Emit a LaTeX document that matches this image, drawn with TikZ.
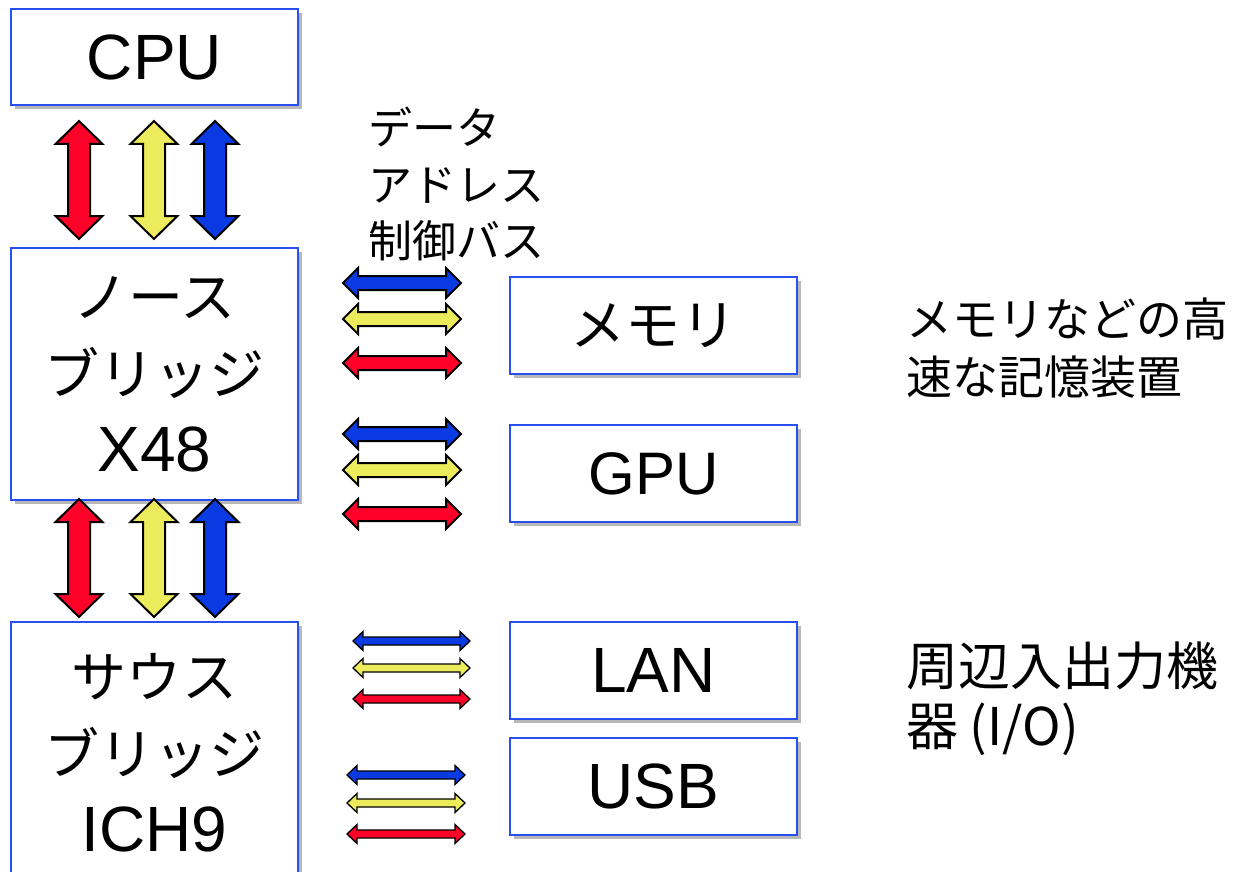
\documentclass[tikz,border=0pt]{standalone}
\usepackage{fontspec}
\setmainfont{Liberation Sans}
\newfontfamily\jp{Noto Sans CJK JP}
\newfontfamily\jpb{Noto Sans CJK JP}[Scale=0.86]
\usetikzlibrary{shadows}
\definecolor{busred}{RGB}{255,0,40}
\definecolor{busyellow}{RGB}{235,235,92}
\definecolor{busblue}{RGB}{10,58,225}
\definecolor{boxblue}{RGB}{40,80,240}
\tikzset{
  box/.style={draw=boxblue, line width=2pt, fill=white, minimum width=287pt,
    inner sep=0pt, align=center, font=\fontsize{64}{77}\selectfont,
    drop shadow={shadow xshift=4pt, shadow yshift=-4pt, opacity=0.28, fill=black}},
  busline/.style={draw=black, line width=2pt, line join=miter},
  smallbus/.style={draw=black, line width=1.3pt, line join=miter},
  lbl/.style={inner sep=0pt, anchor=west, align=left}
}
% vertical double block arrow: x, ytop, ybottom, colour
\newcommand\vbus[4]{\filldraw[busline,fill=#4] (#1,#2) -- ++(23.5,23) -- ++(-12.5,0) -- (#1+11,#3-23) -- ++(12.5,0) -- (#1,#3) -- ++(-23.5,-23) -- ++(12.5,0) -- (#1-11,#2+23) -- ++(-12.5,0) -- cycle;}
% horizontal double block arrow: x1, x2, y, shaft half, head half, head length, colour, style
\newcommand\hbus[8]{\filldraw[#8,fill=#7] (#1,#3) -- (#1+#6,#3-#5) -- (#1+#6,#3-#4) -- (#2-#6,#3-#4) -- (#2-#6,#3-#5) -- (#2,#3) -- (#2-#6,#3+#5) -- (#2-#6,#3+#4) -- (#1+#6,#3+#4) -- (#1+#6,#3+#5) -- cycle;}
\begin{document}
\begin{tikzpicture}[x=1pt,y=-1pt]
\useasboundingbox (0,0) rectangle (1237,872);
% boxes
\node[box, minimum height=96pt] (cpu) at (154.5,57) {CPU};
\node[box, minimum height=252pt] (nb) at (154.5,374) {{\jpb ノース}\\{\jpb ブリッジ}\\X48};
\node[box, minimum height=262pt] (sb) at (154.5,753) {{\jpb サウス}\\{\jpb ブリッジ}\\ICH9};
\node[box, minimum height=97pt] (mem) at (653.5,325.5) {\jpb メモリ};
\node[box, minimum height=97pt, font=\fontsize{60}{72}\selectfont] (gpu) at (653.5,473.5) {GPU};
\node[box, minimum height=97pt] (lan) at (653.5,670.5) {LAN};
\node[box, minimum height=97pt] (usb) at (653.5,786.5) {USB};
% labels
\node[lbl, font=\jp\fontsize{44}{56.5}\selectfont] (buslbl) at (368,184.5) {データ\\アドレス\\制御バス};
\node[lbl, font=\jp\fontsize{46}{58}\selectfont] (memlbl) at (906,348) {メモリなどの高\\速な記憶装置};
\node[lbl, font=\jp\fontsize{52}{60}\selectfont] (iolbl) at (906,699) {周辺入出力機\\器 (I/O)};
% vertical buses CPU - north bridge
\vbus{79}{121}{239}{busred}
\vbus{154}{121}{239}{busyellow}
\vbus{215}{121}{239}{busblue}
% vertical buses north bridge - south bridge
\vbus{79}{499}{617}{busred}
\vbus{154}{499}{617}{busyellow}
\vbus{215}{499}{617}{busblue}
% memory buses
\hbus{343}{461}{283}{7}{15}{15}{busblue}{busline}
\hbus{343}{461}{319}{7}{15}{15}{busyellow}{busline}
\hbus{343}{461}{363}{7}{15}{15}{busred}{busline}
% GPU buses
\hbus{343}{461}{434}{7}{15}{15}{busblue}{busline}
\hbus{343}{461}{470}{7}{15}{15}{busyellow}{busline}
\hbus{343}{461}{514}{7}{15}{15}{busred}{busline}
% LAN buses
\hbus{353}{470}{641}{4}{9.5}{10}{busblue}{smallbus}
\hbus{353}{470}{668}{4}{9.5}{10}{busyellow}{smallbus}
\hbus{353}{470}{699}{4}{9.5}{10}{busred}{smallbus}
% USB buses
\hbus{347}{465}{775}{4}{9.5}{10}{busblue}{smallbus}
\hbus{347}{465}{803}{4}{9.5}{10}{busyellow}{smallbus}
\hbus{347}{465}{834}{4}{9.5}{10}{busred}{smallbus}
\end{tikzpicture}
\end{document}
